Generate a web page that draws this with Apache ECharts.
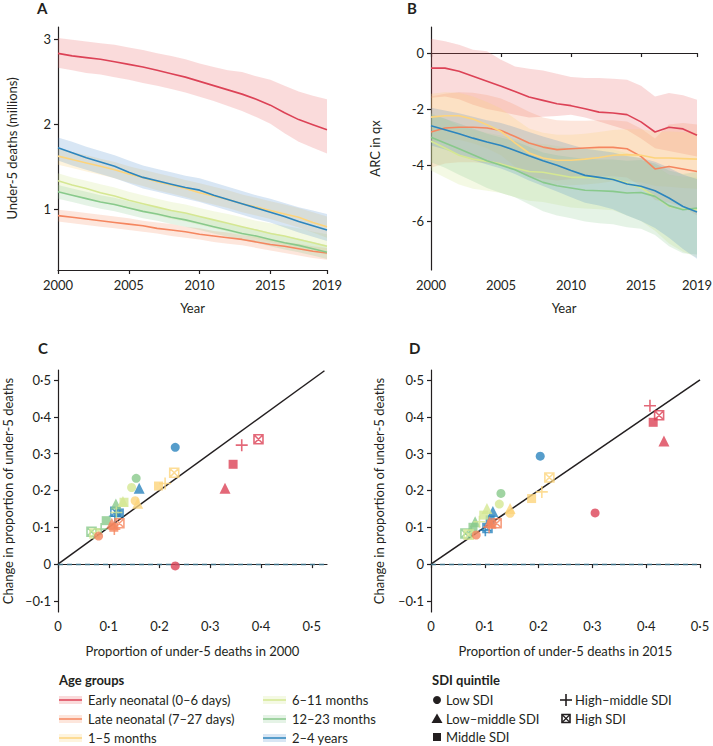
<!DOCTYPE html>
<html>
<head>
<meta charset="utf-8">
<script src="https://cdn.jsdelivr.net/npm/echarts@6/dist/echarts.min.js"></script>
<style>
  html, body { margin: 0; padding: 0; background: #fff; }
  #chart { width: 713px; height: 746px; }
</style>
</head>
<body>
<div id="chart"></div>
<script>
// ---- data ----
const years = ['2000','2001','2002','2003','2004','2005','2006','2007','2008','2009',
               '2010','2011','2012','2013','2014','2015','2016','2017','2018','2019'];
const yearTicks = ['2000', '2005', '2010', '2015', '2019'];
const ageGroups = ['Early neonatal (0–6 days)', 'Late neonatal (7–27 days)', '1–5 months',
                   '6–11 months', '12–23 months', '2–4 years'];
const sdiQuintiles = ['Low SDI', 'Low–middle SDI', 'Middle SDI', 'High–middle SDI', 'High SDI'];
const deathTicks = [1, 2, 3];
const arcTicks = [-6, -4, -2, 0];
const propTicks = [0, 0.1, 0.2, 0.3, 0.4, 0.5];
const changeTicks = [-0.1, 0, 0.1, 0.2, 0.3, 0.4, 0.5];

// panel A: under-5 deaths (millions), mid / lower / upper
const deathsEarly   = [2.83,2.80,2.78,2.76,2.73,2.70,2.67,2.63,2.59,2.55,2.50,2.45,2.40,2.35,2.29,2.22,2.13,2.05,1.99,1.93];
const deathsEarlyLo = [2.66,2.63,2.60,2.58,2.55,2.52,2.48,2.45,2.41,2.37,2.32,2.27,2.21,2.15,2.08,2.00,1.89,1.79,1.72,1.65];
const deathsEarlyHi = [3.01,2.99,2.97,2.95,2.93,2.90,2.87,2.83,2.80,2.76,2.71,2.67,2.63,2.61,2.56,2.52,2.45,2.38,2.33,2.29];
const deathsLate    = [0.92,0.90,0.88,0.86,0.84,0.82,0.80,0.77,0.75,0.73,0.70,0.68,0.66,0.64,0.61,0.58,0.56,0.53,0.50,0.48];
const deathsLateLo  = [0.85,0.83,0.81,0.79,0.77,0.75,0.73,0.71,0.68,0.66,0.64,0.61,0.59,0.57,0.54,0.51,0.48,0.45,0.42,0.40];
const deathsLateHi  = [0.99,0.97,0.95,0.93,0.91,0.89,0.86,0.84,0.82,0.79,0.77,0.74,0.72,0.69,0.67,0.64,0.61,0.59,0.56,0.54];
const deaths1to5    = [1.62,1.58,1.54,1.50,1.46,1.41,1.37,1.32,1.28,1.24,1.19,1.15,1.11,1.06,1.02,0.98,0.94,0.90,0.84,0.79];
const deaths1to5Lo  = [1.52,1.48,1.44,1.40,1.36,1.31,1.27,1.22,1.18,1.14,1.09,1.05,1.01,0.96,0.92,0.88,0.83,0.78,0.72,0.66];
const deaths1to5Hi  = [1.71,1.67,1.63,1.59,1.55,1.50,1.46,1.42,1.38,1.34,1.30,1.26,1.22,1.17,1.13,1.09,1.05,1.01,0.96,0.91];
const deaths6to11   = [1.33,1.28,1.24,1.19,1.15,1.10,1.06,1.02,0.98,0.95,0.91,0.87,0.83,0.79,0.75,0.71,0.68,0.64,0.60,0.56];
const deaths6to11Lo = [1.21,1.16,1.12,1.08,1.04,1.00,0.96,0.92,0.88,0.85,0.81,0.77,0.73,0.69,0.65,0.61,0.58,0.54,0.50,0.46];
const deaths6to11Hi = [1.42,1.37,1.33,1.29,1.25,1.20,1.16,1.12,1.08,1.05,1.01,0.97,0.94,0.90,0.86,0.83,0.80,0.77,0.73,0.70];
const deaths12to23   = [1.20,1.16,1.12,1.08,1.05,1.01,0.97,0.94,0.90,0.87,0.83,0.79,0.75,0.71,0.68,0.64,0.60,0.57,0.53,0.49];
const deaths12to23Lo = [1.12,1.08,1.04,1.00,0.97,0.93,0.89,0.86,0.82,0.79,0.75,0.71,0.67,0.63,0.60,0.56,0.52,0.49,0.45,0.41];
const deaths12to23Hi = [1.28,1.24,1.20,1.16,1.13,1.09,1.05,1.02,0.98,0.95,0.91,0.87,0.83,0.79,0.76,0.72,0.68,0.65,0.61,0.57];
const deaths2to4    = [1.72,1.66,1.60,1.55,1.50,1.43,1.37,1.33,1.29,1.25,1.22,1.16,1.11,1.06,1.01,0.96,0.91,0.85,0.80,0.75];
const deaths2to4Lo  = [1.57,1.51,1.46,1.41,1.36,1.30,1.24,1.20,1.16,1.12,1.08,1.03,0.98,0.93,0.88,0.84,0.78,0.72,0.67,0.62];
const deaths2to4Hi  = [1.84,1.79,1.73,1.68,1.63,1.57,1.51,1.47,1.43,1.39,1.36,1.31,1.26,1.21,1.16,1.12,1.07,1.02,0.98,0.94];

// panel B: ARC in qx, mid / lower / upper
const arcEarly   = [-0.54,-0.54,-0.65,-0.83,-1.01,-1.19,-1.37,-1.57,-1.69,-1.81,-1.88,-1.99,-2.11,-2.14,-2.20,-2.46,-2.82,-2.65,-2.71,-2.94];
const arcEarlyLo = [-1.60,-1.55,-1.65,-1.85,-2.00,-2.10,-2.20,-2.30,-2.28,-2.25,-2.20,-2.30,-2.45,-2.60,-2.75,-3.05,-3.40,-3.50,-3.60,-3.70];
const arcEarlyHi = [0.51,0.42,0.30,0.12,0.06,-0.24,-0.48,-0.56,-0.62,-0.74,-0.86,-0.89,-0.89,-0.92,-0.95,-1.17,-1.55,-1.43,-1.51,-1.67];
const arcLate    = [-2.82,-2.68,-2.65,-2.65,-2.68,-2.77,-2.98,-3.21,-3.36,-3.45,-3.42,-3.39,-3.37,-3.37,-3.42,-3.69,-4.14,-4.05,-4.14,-4.23];
const arcLateLo  = [-4.10,-3.95,-3.90,-3.90,-3.95,-4.00,-4.20,-4.40,-4.50,-4.55,-4.50,-4.45,-4.40,-4.40,-4.45,-4.75,-5.25,-5.35,-5.50,-5.80];
const arcLateHi  = [-1.55,-1.45,-1.40,-1.42,-1.50,-1.62,-1.85,-2.10,-2.30,-2.40,-2.42,-2.42,-2.40,-2.40,-2.45,-2.70,-3.05,-2.55,-2.50,-2.55];
const arc1to5    = [-2.29,-2.24,-2.24,-2.36,-2.56,-2.80,-3.21,-3.57,-3.75,-3.83,-3.83,-3.79,-3.73,-3.65,-3.63,-3.65,-3.75,-3.75,-3.77,-3.79];
const arc1to5Lo  = [-3.20,-3.10,-3.10,-3.22,-3.40,-3.65,-4.05,-4.40,-4.60,-4.70,-4.72,-4.70,-4.65,-4.58,-4.58,-4.62,-4.75,-4.78,-4.82,-4.85];
const arc1to5Hi  = [-1.45,-1.40,-1.42,-1.55,-1.75,-1.98,-2.35,-2.70,-2.85,-2.92,-2.92,-2.88,-2.82,-2.75,-2.72,-2.72,-2.80,-2.80,-2.82,-2.85];
const arc6to11   = [-3.15,-3.39,-3.65,-3.79,-3.87,-3.96,-4.11,-4.23,-4.26,-4.35,-4.44,-4.44,-4.46,-4.49,-4.64,-4.82,-5.12,-5.48,-5.57,-5.60];
const arc6to11Lo = [-4.20,-4.45,-4.70,-4.85,-4.92,-5.00,-5.15,-5.28,-5.32,-5.42,-5.52,-5.55,-5.58,-5.62,-5.80,-6.00,-6.35,-6.80,-7.10,-7.30];
const arc6to11Hi = [-2.15,-2.35,-2.60,-2.75,-2.85,-2.95,-3.08,-3.20,-3.25,-3.32,-3.40,-3.40,-3.42,-3.45,-3.58,-3.75,-4.02,-4.35,-4.42,-4.45];
const arc12to23   = [-3.01,-3.21,-3.42,-3.63,-3.85,-4.01,-4.17,-4.40,-4.62,-4.74,-4.82,-4.90,-4.92,-4.94,-5.00,-4.98,-5.12,-5.45,-5.60,-5.54];
const arc12to23Lo = [-3.90,-4.10,-4.35,-4.58,-4.82,-5.00,-5.15,-5.40,-5.65,-5.80,-5.90,-6.02,-6.08,-6.12,-6.22,-6.28,-6.50,-6.90,-7.15,-7.20];
const arc12to23Hi = [-2.20,-2.35,-2.52,-2.70,-2.88,-3.02,-3.15,-3.35,-3.55,-3.65,-3.72,-3.78,-3.80,-3.80,-3.85,-3.82,-3.95,-4.20,-4.32,-4.25];
const arc2to4    = [-2.60,-2.74,-2.88,-3.04,-3.18,-3.30,-3.48,-3.67,-3.85,-4.01,-4.20,-4.37,-4.44,-4.52,-4.68,-4.76,-4.92,-5.18,-5.48,-5.68];
const arc2to4Lo  = [-3.30,-3.45,-3.62,-3.82,-3.98,-4.12,-4.32,-4.55,-4.75,-4.95,-5.15,-5.35,-5.45,-5.58,-5.80,-6.00,-6.25,-6.60,-7.00,-7.35];
const arc2to4Hi  = [-1.95,-2.05,-2.15,-2.28,-2.40,-2.50,-2.65,-2.82,-2.98,-3.12,-3.28,-3.42,-3.48,-3.55,-3.68,-3.75,-3.88,-4.10,-4.35,-4.50];

// panels C and D: [proportion, change] per SDI quintile (Low, Low-middle, Middle, High-middle, High)
const c2000Early  = [[0.231,-0.005],[0.329,0.206],[0.345,0.271],[0.362,0.323],[0.395,0.339]];
const c2000Late   = [[0.080,0.076],[0.106,0.111],[0.110,0.100],[0.111,0.095],[0.121,0.111]];
const c2000m1to5  = [[0.152,0.172],[0.157,0.165],[0.198,0.212],[0.211,0.219],[0.229,0.248]];
const c2000m6to11 = [[0.145,0.208],[0.128,0.170],[0.130,0.168],[0.115,0.140],[0.072,0.083]];
const c2000m12to23= [[0.154,0.233],[0.114,0.163],[0.095,0.118],[0.085,0.095],[0.066,0.088]];
const c2000y2to4  = [[0.231,0.317],[0.160,0.206],[0.121,0.139],[0.112,0.130],[0.113,0.142]];

const d2015Early  = [[0.305,0.139],[0.433,0.334],[0.413,0.385],[0.407,0.430],[0.424,0.404]];
const d2015Late   = [[0.084,0.079],[0.109,0.115],[0.113,0.108],[0.108,0.100],[0.122,0.111]];
const d2015m1to5  = [[0.147,0.138],[0.147,0.151],[0.187,0.178],[0.206,0.196],[0.220,0.235]];
const d2015m6to11 = [[0.127,0.163],[0.104,0.151],[0.098,0.133],[0.090,0.115],[0.070,0.080]];
const d2015m12to23= [[0.130,0.192],[0.082,0.115],[0.078,0.100],[0.075,0.085],[0.064,0.083]];
const d2015y2to4  = [[0.203,0.293],[0.115,0.143],[0.110,0.120],[0.101,0.092],[0.105,0.098]];

const identityC = [[0, 0], [0.525, 0.525]];
const identityD = [[0, 0], [0.5, 0.5]];

// ---- styling ----
const colors = ['#dc4256', '#f5865f', '#fdd47c', '#d5e792', '#88c98b', '#2c85be'];
const bandColors = ['rgba(230,90,90,0.22)', 'rgba(245,140,95,0.22)', 'rgba(253,212,124,0.25)',
                    'rgba(213,231,146,0.25)', 'rgba(136,201,139,0.22)', 'rgba(60,130,200,0.2)'];
const ink = '#231f20';
const font = 'Lato';

const deathsMid = [deathsEarly, deathsLate, deaths1to5, deaths6to11, deaths12to23, deaths2to4];
const deathsLo  = [deathsEarlyLo, deathsLateLo, deaths1to5Lo, deaths6to11Lo, deaths12to23Lo, deaths2to4Lo];
const deathsHi  = [deathsEarlyHi, deathsLateHi, deaths1to5Hi, deaths6to11Hi, deaths12to23Hi, deaths2to4Hi];
const arcMid = [arcEarly, arcLate, arc1to5, arc6to11, arc12to23, arc2to4];
const arcLo  = [arcEarlyLo, arcLateLo, arc1to5Lo, arc6to11Lo, arc12to23Lo, arc2to4Lo];
const arcHi  = [arcEarlyHi, arcLateHi, arc1to5Hi, arc6to11Hi, arc12to23Hi, arc2to4Hi];
const pointsC = [c2000Early, c2000Late, c2000m1to5, c2000m6to11, c2000m12to23, c2000y2to4];
const pointsD = [d2015Early, d2015Late, d2015m1to5, d2015m6to11, d2015m12to23, d2015y2to4];

const plusPath = 'path://M5,0L5,10M0,5L10,5';
const boxXPath = 'path://M0,0L10,0L10,10L0,10ZM0,0L10,10M10,0L0,10';
const sdiSymbols = [
  { symbol: 'circle', size: 9 },
  { symbol: 'triangle', size: 11 },
  { symbol: 'rect', size: 9 },
  { symbol: plusPath, size: 12, outline: true },
  { symbol: boxXPath, size: 9, outline: true }
];

const dot = v => v === 0 ? '0' : (v < 0 ? '–' : '') + String(Math.abs(v)).replace('.', '·');
const labelStyle = { color: ink, fontFamily: font, fontSize: 13 };
const nameStyle = { color: ink, fontFamily: font, fontSize: 13 };
const lineAxis = { show: true, lineStyle: { color: ink, width: 1.2 } };
const tickStyle = { show: true, length: 4, lineStyle: { color: ink, width: 1.2 } };

function yearAxis(gridIndex) {
  return {
    type: 'category', gridIndex, data: years, boundaryGap: false,
    name: 'Year', nameLocation: 'middle', nameGap: 31, nameTextStyle: nameStyle,
    axisLine: lineAxis,
    axisTick: Object.assign({}, tickStyle, { interval: (i, v) => yearTicks.includes(v) }),
    axisLabel: Object.assign({}, labelStyle, { interval: (i, v) => yearTicks.includes(v), margin: 8 }),
    splitLine: { show: false }
  };
}
function valueAxis(gridIndex, min, max, ticks, fmt, extra) {
  return Object.assign({
    type: 'value', gridIndex, min, max,
    nameLocation: 'middle', nameTextStyle: nameStyle,
    axisLine: lineAxis,
    axisTick: Object.assign({}, tickStyle, { customValues: ticks }),
    axisLabel: Object.assign({}, labelStyle, { customValues: ticks, formatter: fmt, margin: 7 }),
    splitLine: { show: false }
  }, extra);
}

function bandSeries(idx, mid, lo, hi, tag) {
  const out = [];
  mid.forEach((m, i) => {
    const diff = hi[i].map((v, k) => +(v - lo[i][k]).toFixed(3));
    out.push({
      type: 'line', xAxisIndex: idx, yAxisIndex: idx, data: lo[i], stack: tag + i, stackStrategy: 'all',
      symbol: 'none', lineStyle: { opacity: 0 }, silent: true, z: 1
    });
    out.push({
      type: 'line', xAxisIndex: idx, yAxisIndex: idx, data: diff, stack: tag + i, stackStrategy: 'all',
      symbol: 'none', lineStyle: { opacity: 0 }, areaStyle: { color: bandColors[i], opacity: 1 }, silent: true, z: 1
    });
  });
  mid.forEach((m, i) => {
    out.push({
      type: 'line', name: ageGroups[i], xAxisIndex: idx, yAxisIndex: idx, data: m,
      symbol: 'none', lineStyle: { color: colors[i], width: 1.6 }, z: 3
    });
  });
  return out;
}

function scatterSeries(idx, groups, identity) {
  const out = [{
    type: 'line', xAxisIndex: idx, yAxisIndex: idx, data: identity, symbol: 'none',
    lineStyle: { color: ink, width: 1.5 }, z: 2, silent: true,
    markLine: {
      silent: true, symbol: ['none', 'none'], label: { show: false },
      lineStyle: { color: '#3d6f86', type: [5, 4], width: 1.3 },
      data: [{ yAxis: 0 }]
    }
  }];
  // draw the older age groups last so they sit on top
  for (let i = groups.length - 1; i >= 0; i--) {
    out.push({
      type: 'scatter', name: ageGroups[i], xAxisIndex: idx, yAxisIndex: idx, z: 4 + (groups.length - i),
      data: groups[i].map((p, k) => {
        const s = sdiSymbols[k];
        return {
          value: p, symbol: s.symbol, symbolSize: s.size,
          itemStyle: s.outline
            ? { color: 'rgba(0,0,0,0)', borderColor: colors[i], borderWidth: 1.6 }
            : { color: colors[i], borderWidth: 0 }
        };
      })
    });
  }
  return out;
}

// ---- legends & panel letters ----
const graphics = [];
[['A', 37, 8], ['B', 407, 8], ['C', 38, 348], ['D', 409, 348]].forEach(([t, x, y]) => {
  graphics.push({ type: 'text', x, y, style: { text: t, font: 'bold 15px ' + font, fill: ink, verticalAlign: 'middle' } });
});
graphics.push({ type: 'text', x: 59, y: 680, style: { text: 'Age groups', font: 'bold 13px ' + font, fill: ink, verticalAlign: 'middle' } });
ageGroups.forEach((name, i) => {
  const x = i < 3 ? 59 : 263;
  const y = 700 + (i % 3) * 19;
  graphics.push({ type: 'rect', shape: { x, y: y - 4, width: 23, height: 8 }, style: { fill: bandColors[i] } });
  graphics.push({ type: 'line', shape: { x1: x, y1: y, x2: x + 23, y2: y }, style: { stroke: colors[i], lineWidth: 1.5 } });
  graphics.push({ type: 'text', x: x + 29, y, style: { text: name, font: '13px ' + font, fill: ink, verticalAlign: 'middle' } });
});
graphics.push({ type: 'text', x: 432, y: 680, style: { text: 'SDI quintile', font: 'bold 13px ' + font, fill: ink, verticalAlign: 'middle' } });
sdiQuintiles.forEach((name, k) => {
  const cx = k < 3 ? 437 : 566;
  const cy = 700 + (k % 3) * 18.5;
  const st = { fill: ink };
  if (k === 0) graphics.push({ type: 'circle', shape: { cx, cy, r: 4 }, style: st });
  if (k === 1) graphics.push({ type: 'polygon', shape: { points: [[cx, cy - 5], [cx + 5.5, cy + 4.5], [cx - 5.5, cy + 4.5]] }, style: st });
  if (k === 2) graphics.push({ type: 'rect', shape: { x: cx - 4, y: cy - 4, width: 8, height: 8 }, style: st });
  if (k === 3) {
    graphics.push({ type: 'line', shape: { x1: cx - 6, y1: cy, x2: cx + 6, y2: cy }, style: { stroke: ink, lineWidth: 1.6 } });
    graphics.push({ type: 'line', shape: { x1: cx, y1: cy - 6, x2: cx, y2: cy + 6 }, style: { stroke: ink, lineWidth: 1.6 } });
  }
  if (k === 4) {
    graphics.push({ type: 'rect', shape: { x: cx - 4, y: cy - 4, width: 8, height: 8 }, style: { fill: 'none', stroke: ink, lineWidth: 1.6 } });
    graphics.push({ type: 'line', shape: { x1: cx - 4, y1: cy - 4, x2: cx + 4, y2: cy + 4 }, style: { stroke: ink, lineWidth: 1.2 } });
    graphics.push({ type: 'line', shape: { x1: cx + 4, y1: cy - 4, x2: cx - 4, y2: cy + 4 }, style: { stroke: ink, lineWidth: 1.2 } });
  }
  graphics.push({ type: 'text', x: cx + 9, y: cy, style: { text: name, font: '13px ' + font, fill: ink, verticalAlign: 'middle' } });
});

// ---- chart ----
const chart = echarts.init(document.getElementById('chart'), null, { renderer: 'svg' });
const gridBase = { containLabel: false, outerBoundsMode: 'none', show: false };

chart.setOption({
  animation: false,
  backgroundColor: '#fff',
  textStyle: { fontFamily: font },
  grid: [
    Object.assign({ left: 58, top: 27, width: 269, height: 243 }, gridBase),
    Object.assign({ left: 431, top: 27, width: 266, height: 243 }, gridBase),
    Object.assign({ left: 58, top: 370, width: 269, height: 242 }, gridBase),
    Object.assign({ left: 431, top: 370, width: 269, height: 242 }, gridBase)
  ],
  xAxis: [
    yearAxis(0),
    yearAxis(1),
    valueAxis(2, 0, 0.53, propTicks, dot, { name: 'Proportion of under-5 deaths in 2000', nameGap: 32 }),
    valueAxis(3, 0, 0.5, propTicks, dot, { name: 'Proportion of under-5 deaths in 2015', nameGap: 32 })
  ],
  yAxis: [
    valueAxis(0, 0.28, 3.14, deathTicks, v => String(v), { name: 'Under-5 deaths (millions)', nameGap: 40 }),
    valueAxis(1, -7.75, 0.93, arcTicks, v => String(v), { name: 'ARC in qx', nameGap: 50 }),
    valueAxis(2, -0.13, 0.527, changeTicks, dot, { name: 'Change in proportion of under-5 deaths', nameGap: 44 }),
    valueAxis(3, -0.13, 0.527, changeTicks, dot, { name: 'Change in proportion of under-5 deaths', nameGap: 46 })
  ],
  series: [].concat(
    bandSeries(0, deathsMid, deathsLo, deathsHi, 'A'),
    bandSeries(1, arcMid, arcLo, arcHi, 'B'),
    scatterSeries(2, pointsC, identityC),
    scatterSeries(3, pointsD, identityD)
  ),
  graphic: graphics
});
</script>
</body>
</html>
